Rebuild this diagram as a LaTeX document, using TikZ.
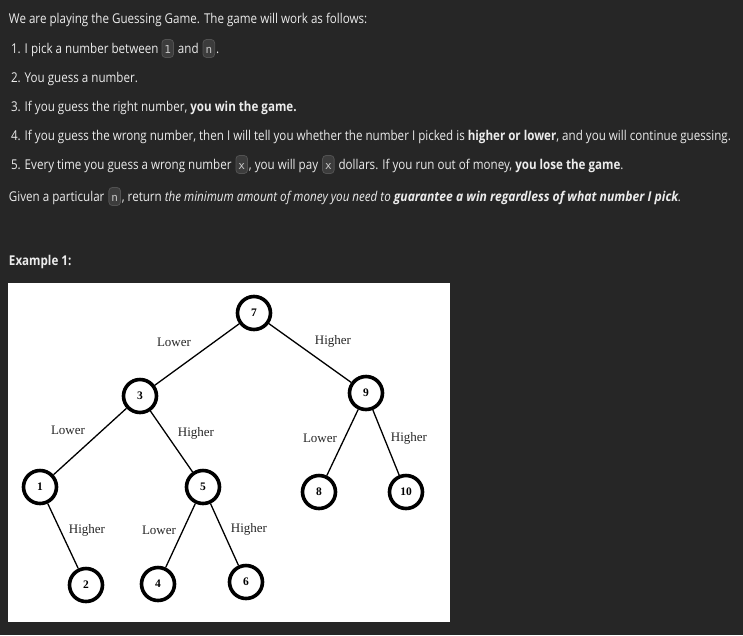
\documentclass[tikz,border=0pt]{standalone}
\usepackage{fontspec}
\setmainfont{Open Sans}[FakeStretch=0.86]
\newfontfamily\bifont{Open Sans}[FakeStretch=0.90]
\newfontfamily\treefont{Liberation Serif}
\newfontfamily\codefont{DejaVu Sans Mono}
\definecolor{bgc}{RGB}{38,38,38}
\definecolor{txtc}{RGB}{236,236,236}
\definecolor{codebg}{RGB}{60,60,60}
\definecolor{codeborder}{RGB}{82,82,82}
\definecolor{codetxt}{RGB}{200,200,200}
\begin{document}
\begin{tikzpicture}[x=1pt,y=-1pt,
  txt/.style={inner sep=0pt, outer sep=0pt, anchor=base west, text=txtc, font=\fontsize{13.5}{16}\selectfont},
  code/.style={anchor=base west, inner xsep=2.5pt, inner ysep=4pt, text height=9.5pt, text depth=0.5pt, fill=codebg, draw=codeborder, line width=0.8pt, rounded corners=3.5pt, text=codetxt, font=\codefont\fontsize{11}{13}\selectfont},
  tnode/.style={circle, draw=black, fill=white, line width=3.6pt, minimum size=33pt, inner sep=0pt, font=\treefont\bfseries\fontsize{11.5}{13}\selectfont},
  edge/.style={draw=black, line width=1.3pt},
  lab/.style={inner sep=0pt, text=black!85, font=\treefont\fontsize{13}{15}\selectfont}]
\useasboundingbox (0,0) rectangle (743,635);
\fill[bgc] (0,0) rectangle (743,635);
% text
\node[txt] (l0) at (9,23) {We are playing the Guessing Game. The game will work as follows:};
\node[txt] (l1a) at (11,53) {1. I pick a number between};
\node[code] (c1) at ([xshift=3pt]l1a.base east) {1};
\node[txt] (l1b) at ([xshift=4pt]c1.base east) {and};
\node[code] (c2) at ([xshift=4pt]l1b.base east) {n};
\node[txt] (l1c) at ([xshift=1pt]c2.base east) {.};
\node[txt] (l2) at (11,82) {2. You guess a number.};
\node[txt] (l3) at (11,111) {3. If you guess the right number, \textbf{you win the game.}};
\node[txt] (l4) at (11,140) {4. If you guess the wrong number, then I will tell you whether the number I picked is \textbf{higher or lower}, and you will continue guessing.};
\node[txt] (l5a) at (11,169) {5. Every time you guess a wrong number};
\node[code] (c3) at ([xshift=4pt]l5a.base east) {x};
\node[txt] (l5b) at ([xshift=1pt]c3.base east) {, you will pay};
\node[code] (c4) at ([xshift=4pt]l5b.base east) {x};
\node[txt] (l5c) at ([xshift=4pt]c4.base east) {dollars. If you run out of money, \textbf{you lose the game}.};
\node[txt] (l6a) at (9,201) {Given a particular};
\node[code] (c5) at ([xshift=4pt]l6a.base east) {n};
\node[txt] (l6b) at ([xshift=1pt]c5.base east) {, return \textit{the minimum amount of money you need to {\bifont\bfseries\itshape guarantee a win regardless of what number I pick}.}};
\node[txt, font=\bfseries\fontsize{13.5}{16}\selectfont] (ex) at (9,265) {Example 1:};
% figure
\fill[white] (8,283) rectangle (450,622);
\node[tnode] (n7) at (254,313) {7};
\node[tnode] (n3) at (140,396) {3};
\node[tnode] (n9) at (366,393) {9};
\node[tnode] (n1) at (40,487) {1};
\node[tnode] (n5) at (203,487) {5};
\node[tnode] (n8) at (319,492) {8};
\node[tnode] (n10) at (406,492) {10};
\node[tnode] (n2) at (86,585) {2};
\node[tnode] (n4) at (158,584) {4};
\node[tnode] (n6) at (246,582) {6};
\path[edge] (n7) -- (n3);
\path[edge] (n7) -- (n9);
\path[edge] (n3) -- (n1);
\path[edge] (n3) -- (n5);
\path[edge] (n9) -- (n8);
\path[edge] (n9) -- (n10);
\path[edge] (n1) -- (n2);
\path[edge] (n5) -- (n4);
\path[edge] (n5) -- (n6);
\node[lab] (t73) at (174,342) {Lower};
\node[lab] (t79) at (333,341) {Higher};
\node[lab] (t31) at (68,430) {Lower};
\node[lab] (t35) at (196,433) {Higher};
\node[lab] (t98) at (320,438) {Lower};
\node[lab] (t910) at (409,438) {Higher};
\node[lab] (t12) at (87,530) {Higher};
\node[lab] (t54) at (159,530) {Lower};
\node[lab] (t56) at (249,529) {Higher};
\end{tikzpicture}
\end{document}
